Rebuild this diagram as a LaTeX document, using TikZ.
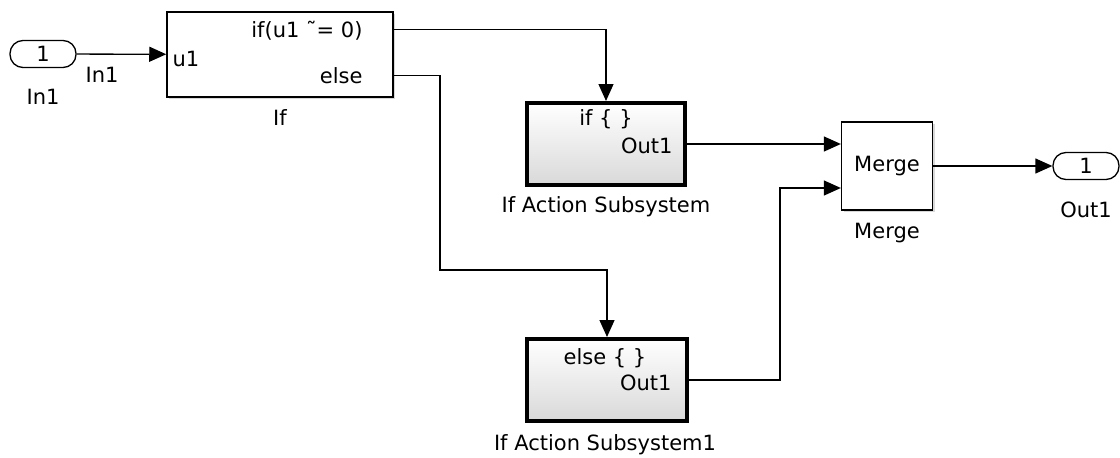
\documentclass[tikz,border=0pt]{standalone}
\usepackage{fontspec}
\setmainfont{DejaVu Sans}
\usetikzlibrary{arrows.meta,shadows}

\begin{document}
\begin{tikzpicture}[x=1pt,y=-1pt,
  every node/.style={font=\fontsize{21}{24}\selectfont},
  sig/.style={line width=1.3pt,-{Triangle[length=17pt,width=15pt]}},
  port/.style={draw,line width=1.3pt,rounded corners=13pt,minimum width=66pt,minimum height=27pt,inner sep=0pt},
  blk/.style={draw,line width=1.5pt,fill=white,inner sep=0pt,drop shadow={shadow xshift=2pt,shadow yshift=-2pt,fill=black!30}},
  subsys/.style={blk,line width=4pt,top color=white,bottom color=black!15,minimum width=158pt,minimum height=82pt}]
\useasboundingbox (0,0) rectangle (1120,458);

\node[port] (in1) at (43,54) {1};
\node (in1lbl) at (43,97) {In1};
\node (in1sig) at (102,75) {In1};

\node[blk,minimum width=226pt,minimum height=85pt] (if) at (280,54.5) {};
\node[anchor=west] (u1) at (169,59) {u1};
\node[anchor=east] (ifout) at (366,31) {if(u1 \char"02DC= 0)};
\node[anchor=east] (elseout) at (366,76) {else};
\node (iflbl) at (280,118) {If};

\node[subsys] (ifas) at (606,144) {};
\node (ifastxt) at (606,119) {if \{ \}};
\node[anchor=east] (ifasout) at (676,146) {Out1};
\node (ifaslbl) at (606,207) {If Action Subsystem};

\node[subsys,minimum width=160pt] (elseas) at (607,380) {};
\node (elseastxt) at (605,358) {else \{ \}};
\node[anchor=east] (elseasout) at (675,383) {Out1};
\node (elseaslbl) at (605,445) {If Action Subsystem1};

\node[blk,line width=1.3pt,minimum width=91pt,minimum height=88pt] (merge) at (887,166) {Merge};
\node (mergelbl) at (887,233) {Merge};

\node[port] (out1) at (1086,166) {1};
\node (out1lbl) at (1086,210) {Out1};

\coordinate (ifp) at ([yshift=25pt]if.east);
\coordinate (elsep) at ([yshift=-21pt]if.east);
\coordinate (elsebend) at (440,270);
\coordinate (min2) at ([yshift=-22pt]merge.west);

\draw[sig] (in1) -- (if);
\draw[sig] (ifp) -| (ifas.north);
\draw[sig] (elsep) -| (elsebend) -| (elseas.north);
\draw[sig] (ifas.east) -- (ifas.east -| merge.west);
\draw[sig] (elseas.east) -- ++(91,0) |- (min2);
\draw[sig] (merge) -- (out1);
\end{tikzpicture}
\end{document}
